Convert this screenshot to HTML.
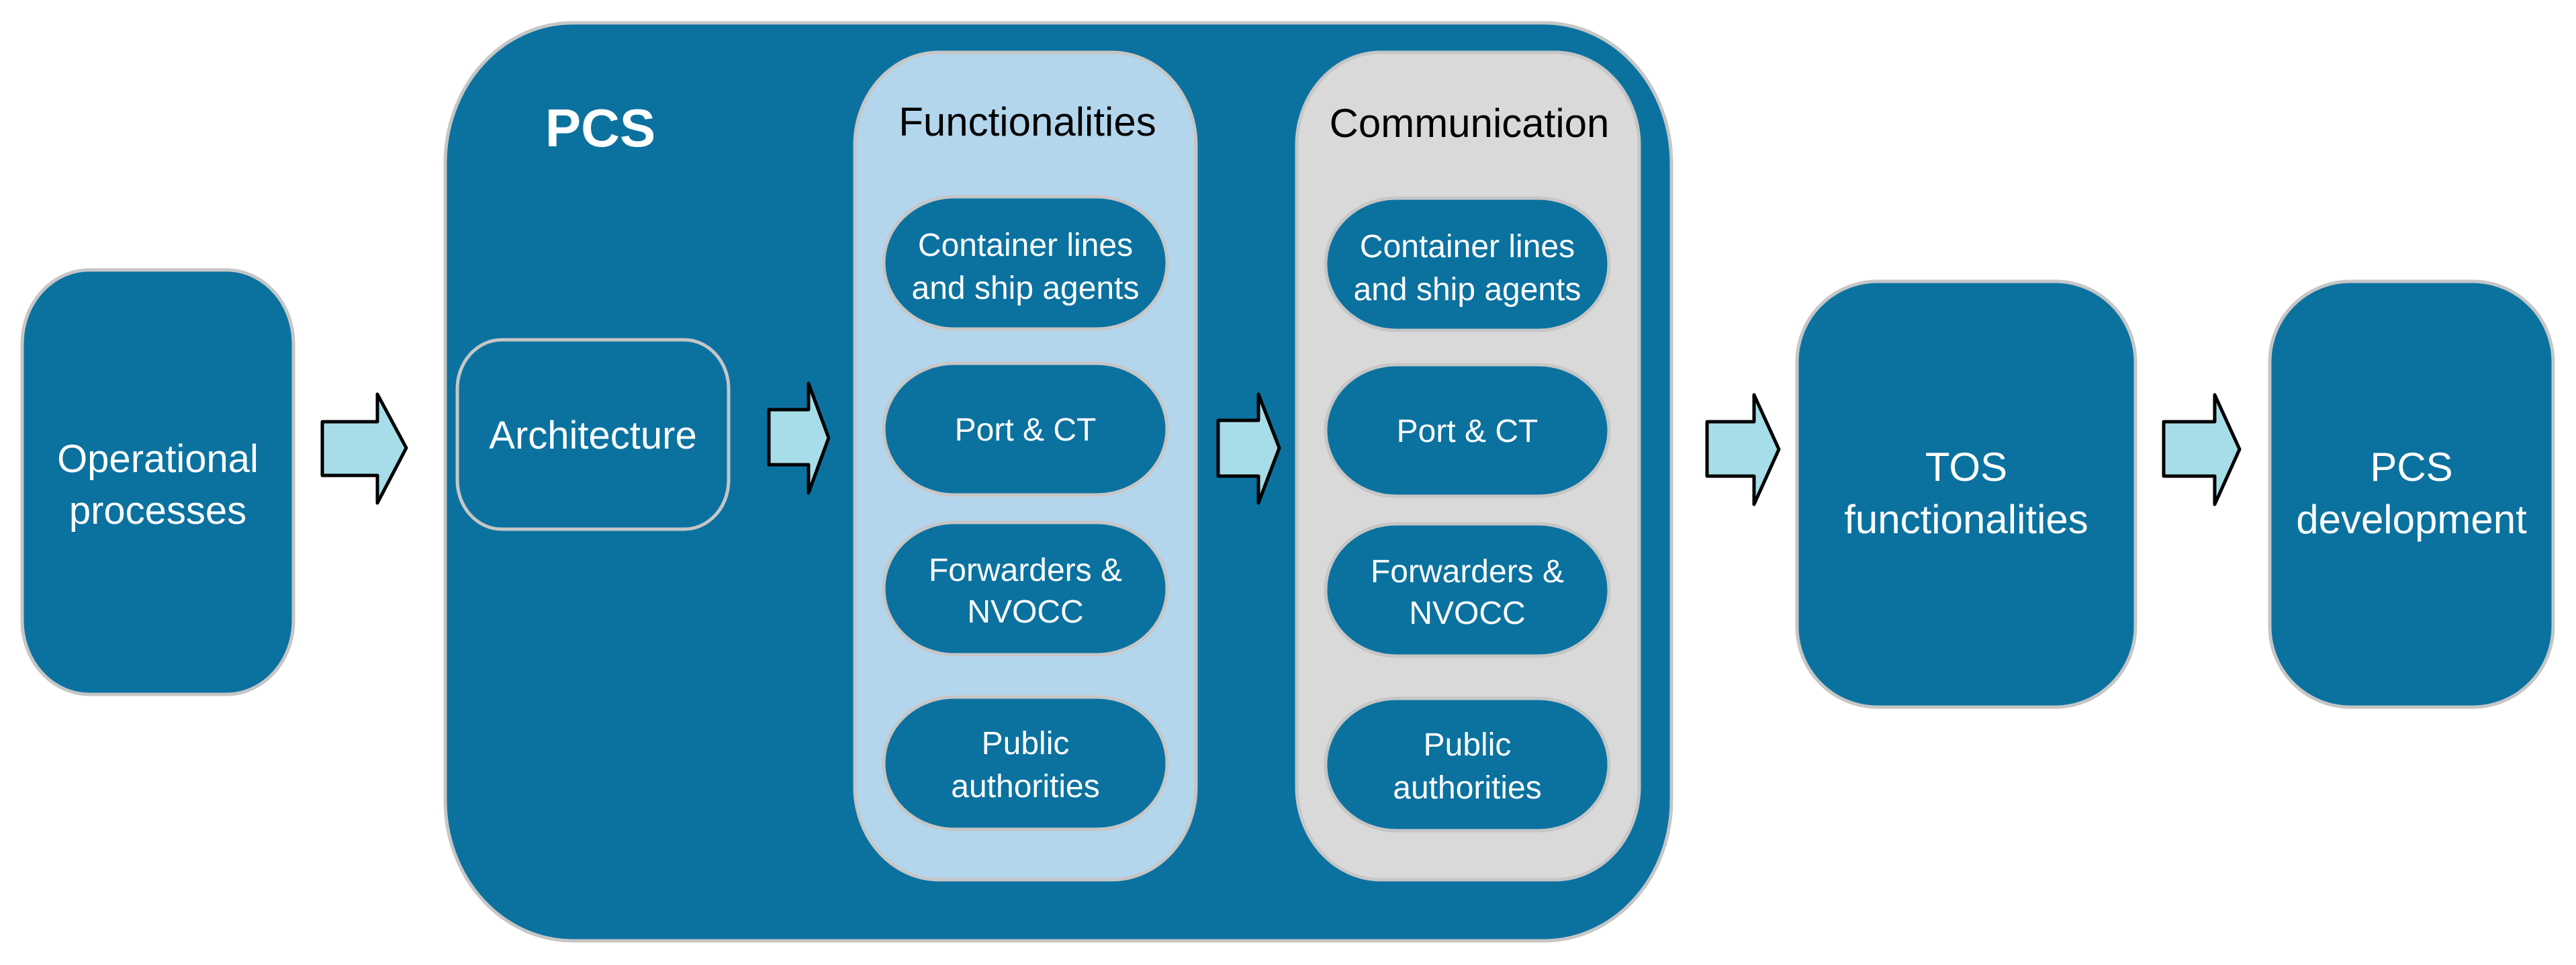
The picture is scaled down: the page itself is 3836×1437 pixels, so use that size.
<!DOCTYPE html>
<html><head><meta charset="utf-8"><style>
html,body{margin:0;padding:0;background:#fff;}
svg text{font-family:"Liberation Sans",sans-serif;}
</style></head><body>
<svg width="3836" height="1432" viewBox="0 0 3836 1432" xmlns="http://www.w3.org/2000/svg">
<g stroke="#c6c6c6" stroke-width="5">
<rect x="33" y="402" width="404" height="632" rx="100" ry="110" fill="#0b72a0"/>
<rect x="663" y="34" width="1826" height="1367" rx="190" ry="209" fill="#0b72a0"/>
<rect x="681" y="506" width="404" height="282" rx="66" ry="73" fill="#0b72a0"/>
<rect x="1273" y="78" width="508" height="1232" rx="125" ry="138" fill="#b3d6ed"/>
<rect x="1931" y="78" width="510" height="1232" rx="125" ry="138" fill="#d9d9d9"/>
<rect x="1316" y="293" width="422" height="197" rx="105" ry="98" fill="#0b72a0"/>
<rect x="1316" y="541" width="422" height="196" rx="105" ry="98" fill="#0b72a0"/>
<rect x="1316" y="778" width="422" height="197" rx="105" ry="98" fill="#0b72a0"/>
<rect x="1316" y="1038" width="422" height="197" rx="105" ry="98" fill="#0b72a0"/>
<rect x="1974" y="295" width="422" height="197" rx="105" ry="98" fill="#0b72a0"/>
<rect x="1974" y="543" width="422" height="196" rx="105" ry="98" fill="#0b72a0"/>
<rect x="1974" y="780" width="422" height="197" rx="105" ry="98" fill="#0b72a0"/>
<rect x="1974" y="1040" width="422" height="197" rx="105" ry="98" fill="#0b72a0"/>
<rect x="2676" y="419" width="504" height="634" rx="120" fill="#0b72a0"/>
<rect x="3380" y="419" width="422" height="634" rx="120" fill="#0b72a0"/>
</g>
<g fill="#a6dde8" stroke="#000" stroke-width="5" stroke-linejoin="round">
<polygon points="480,628 562,628 562,587 605,667 562,749 562,708 480,708"/>
<polygon points="1145,610 1204,610 1204,571 1234,652 1204,734 1204,692 1145,692"/>
<polygon points="1814,626 1874,626 1874,587 1905,667 1874,749 1874,709 1814,709"/>
<polygon points="2542,628 2612,628 2612,588 2649,669 2612,751 2612,709 2542,709"/>
<polygon points="3222,628 3298,628 3298,588 3335,669 3298,751 3298,709 3222,709"/>
</g>
<g fill="#fff" text-anchor="middle" font-size="58">
<text x="235" y="703">Operational</text>
<text x="235" y="780">processes</text>
<text x="894" y="218" font-size="80" font-weight="bold">PCS</text>
<text x="883" y="668" font-size="58">Architecture</text>
<text x="1527" y="381" font-size="48">Container lines</text>
<text x="1527" y="445" font-size="48">and ship agents</text>
<text x="1527" y="656" font-size="48">Port &amp; CT</text>
<text x="1527" y="865" font-size="48">Forwarders &amp;</text>
<text x="1527" y="927" font-size="48">NVOCC</text>
<text x="1527" y="1123" font-size="48">Public</text>
<text x="1527" y="1187" font-size="48">authorities</text>
<text x="2185" y="383" font-size="48">Container lines</text>
<text x="2185" y="447" font-size="48">and ship agents</text>
<text x="2185" y="658" font-size="48">Port &amp; CT</text>
<text x="2185" y="867" font-size="48">Forwarders &amp;</text>
<text x="2185" y="929" font-size="48">NVOCC</text>
<text x="2185" y="1125" font-size="48">Public</text>
<text x="2185" y="1189" font-size="48">authorities</text>
<text x="2928" y="716" font-size="60">TOS</text>
<text x="2928" y="794" font-size="60">functionalities</text>
<text x="3591" y="716" font-size="60">PCS</text>
<text x="3591" y="794" font-size="60">development</text>
</g>
<g fill="#000" text-anchor="middle" font-size="60">
<text x="1530" y="202">Functionalities</text>
<text x="2188" y="204">Communication</text>
</g>
</svg>
</body></html>
